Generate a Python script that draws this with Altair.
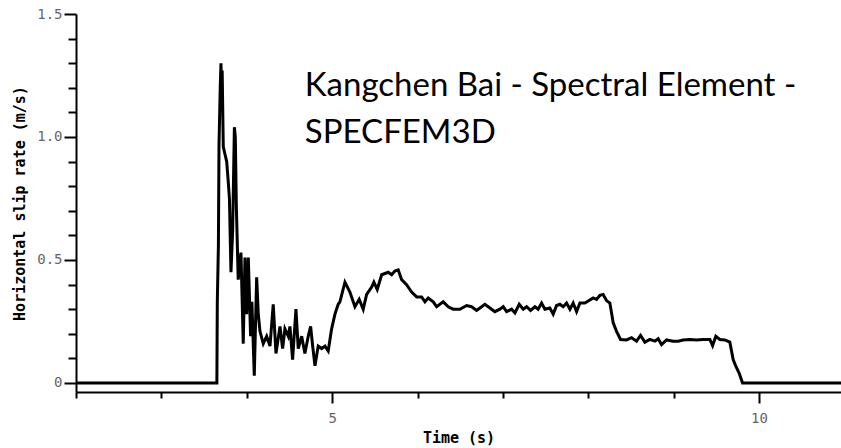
import altair as alt
import pandas as pd

time_s = [
    2.0, 3.650, 3.655, 3.668, 3.675, 3.690, 3.698, 3.706, 3.712, 3.725,
    3.745, 3.765, 3.783, 3.797, 3.815, 3.835, 3.855, 3.866, 3.878, 3.900,
    3.932, 3.959, 3.979, 3.999, 4.018, 4.045, 4.060, 4.088, 4.116, 4.135,
    4.155, 4.193, 4.233, 4.272, 4.310, 4.342, 4.389, 4.420, 4.447, 4.486,
    4.506, 4.537, 4.576, 4.603, 4.643, 4.681, 4.720, 4.748, 4.772, 4.799,
    4.837, 4.877, 4.916, 4.954, 4.994, 5.033, 5.071, 5.091, 5.150, 5.208,
    5.267, 5.317, 5.364, 5.404, 5.463, 5.489, 5.528, 5.580, 5.657, 5.697,
    5.735, 5.774, 5.814, 5.872, 5.931, 5.990, 6.048, 6.087, 6.125, 6.184,
    6.224, 6.301, 6.360, 6.418, 6.496, 6.575, 6.633, 6.692, 6.731, 6.789,
    6.848, 6.906, 6.965, 7.004, 7.043, 7.102, 7.141, 7.191, 7.238, 7.278,
    7.324, 7.375, 7.413, 7.453, 7.492, 7.550, 7.589, 7.629, 7.667, 7.706,
    7.746, 7.785, 7.823, 7.863, 7.902, 7.960, 7.999, 8.057, 8.097, 8.136,
    8.174, 8.214, 8.253, 8.292, 8.331, 8.378, 8.448, 8.507, 8.566, 8.612,
    8.663, 8.721, 8.780, 8.819, 8.858, 8.917, 8.994, 9.053, 9.111, 9.190,
    9.268, 9.345, 9.424, 9.456, 9.494, 9.541, 9.600, 9.658, 9.697, 9.728,
    9.767, 9.807, 10.96,
]

slip_rate = [
    0, 0, 0.33, 0.56, 0.97, 1.21, 1.30, 1.16, 1.27, 0.96,
    0.93, 0.90, 0.82, 0.75, 0.45, 0.62, 1.04, 1.00, 0.72, 0.42,
    0.53, 0.16, 0.51, 0.28, 0.51, 0.19, 0.33, 0.03, 0.43, 0.28,
    0.21, 0.16, 0.19, 0.15, 0.32, 0.12, 0.23, 0.14, 0.22, 0.19,
    0.23, 0.095, 0.30, 0.14, 0.19, 0.12, 0.19, 0.23, 0.15, 0.07,
    0.15, 0.14, 0.15, 0.13, 0.22, 0.28, 0.32, 0.33, 0.41, 0.37,
    0.31, 0.34, 0.30, 0.36, 0.39, 0.41, 0.38, 0.44, 0.45, 0.44,
    0.455, 0.46, 0.42, 0.40, 0.37, 0.35, 0.35, 0.33, 0.345, 0.33,
    0.31, 0.33, 0.31, 0.30, 0.30, 0.315, 0.31, 0.295, 0.305, 0.32,
    0.305, 0.29, 0.30, 0.31, 0.29, 0.30, 0.285, 0.32, 0.30, 0.31,
    0.295, 0.31, 0.30, 0.325, 0.30, 0.305, 0.28, 0.315, 0.32, 0.31,
    0.325, 0.30, 0.325, 0.29, 0.325, 0.325, 0.333, 0.346, 0.34, 0.356,
    0.36, 0.335, 0.325, 0.245, 0.21, 0.177, 0.175, 0.184, 0.17, 0.193,
    0.166, 0.177, 0.17, 0.18, 0.156, 0.175, 0.17, 0.17, 0.175, 0.177,
    0.175, 0.177, 0.177, 0.152, 0.19, 0.177, 0.175, 0.166, 0.095, 0.068,
    0.04, 0.0, 0.0,
]

x_ticks = [2, 3, 4, 5, 6, 7, 8, 9, 10]
y_ticks = [0, 0.1, 0.2, 0.3, 0.4, 0.5, 0.6, 0.7, 0.8, 0.9, 1.0, 1.1, 1.2, 1.3, 1.4, 1.5]

note_lines = ["Kangchen Bai - Spectral Element -", "SPECFEM3D"]
note_x = [4.68, 4.68]
note_y = [1.165, 0.977]

df = pd.DataFrame({"t": time_s, "v": slip_rate})
notes = pd.DataFrame({"label": note_lines, "t": note_x, "v": note_y})

mono = "DejaVu Sans Mono"

x_scale = alt.Scale(domain=[2, 10.96], nice=False, zero=False)
y_scale = alt.Scale(domain=[-0.0366, 1.5], nice=False, zero=False)

x_major = "abs(datum.value / 5 - round(datum.value / 5)) < 0.001"
y_major = "abs(datum.value * 2 - round(datum.value * 2)) < 0.001"

x_axis = alt.Axis(
    values=x_ticks,
    title="Time (s)",
    labelExpr=f"({x_major}) ? format(datum.value, '.0f') : ''",
    tickSize={"condition": {"test": x_major, "value": 11}, "value": 6},
    labelPadding=8,
    titlePadding=5,
    grid=False,
    labelFlush=False,
    labelOverlap=False,
)

y_axis = alt.Axis(
    values=y_ticks,
    title="Horizontal slip rate (m/s)",
    labelExpr=f"({y_major}) ? (abs(datum.value) < 0.001 ? '0' : format(datum.value, '.1f')) : ''",
    tickSize={"condition": {"test": y_major, "value": 12}, "value": 8},
    labelPadding=2,
    titlePadding=9,
    grid=False,
    labelFlush=False,
    labelOverlap=False,
)

line = alt.Chart(df).mark_line(color="black", strokeWidth=3).encode(
    x=alt.X("t:Q", scale=x_scale, axis=x_axis),
    y=alt.Y("v:Q", scale=y_scale, axis=y_axis),
)

text = alt.Chart(notes).mark_text(
    align="left", baseline="alphabetic", font="Lato", fontSize=33, color="black"
).encode(
    x=alt.X("t:Q", scale=x_scale, axis=x_axis),
    y=alt.Y("v:Q", scale=y_scale, axis=y_axis),
    text="label:N",
)

chart = (
    alt.layer(line, text)
    .properties(
        width=765,
        height=378,
        padding={"left": 76, "top": 14, "right": 0, "bottom": 56},
        autosize=alt.AutoSizeParams(type="none"),
        background="white",
    )
    .configure_view(strokeWidth=0)
    .configure_axis(
        domainColor="black",
        domainWidth=2,
        tickColor="black",
        tickWidth=2,
        labelFont=mono,
        labelFontSize=14,
        labelColor="#666666",
        titleFont=mono,
        titleFontSize=15,
        titleFontWeight="bold",
        titleColor="black",
    )
)

chart.save("out.html", embed_options={"renderer": "svg", "actions": False})
